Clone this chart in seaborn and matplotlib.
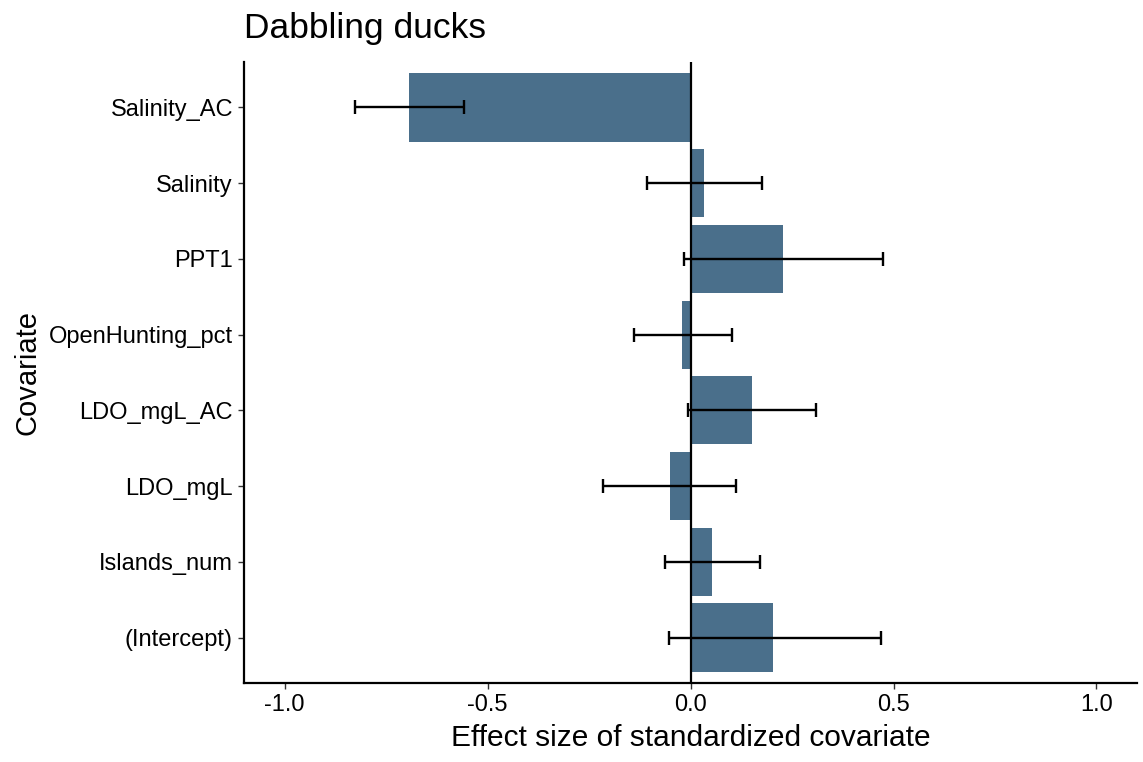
import numpy as np
import pandas as pd
import matplotlib
matplotlib.use("Agg")
import matplotlib.pyplot as plt
import seaborn as sns

# Effect sizes (top to bottom)
COVARIATES = ["Salinity_AC", "Salinity", "PPT1", "OpenHunting_pct",
              "LDO_mgL_AC", "LDO_mgL", "Islands_num", "(Intercept)"]
ESTIMATES = [-0.693, 0.033, 0.229, -0.020, 0.151, -0.051, 0.053, 0.204]
LOWER = [-0.827, -0.108, -0.015, -0.139, -0.006, -0.215, -0.063, -0.053]
UPPER = [-0.558, 0.176, 0.475, 0.101, 0.308, 0.113, 0.170, 0.468]
X_TICKS = [-1.0, -0.5, 0.0, 0.5, 1.0]

BAR_COLOR = "#4a6f8b"

df = pd.DataFrame({"Covariate": COVARIATES, "Estimate": ESTIMATES,
                   "Lower": LOWER, "Upper": UPPER})

sns.set_style("white")
plt.rcParams["font.family"] = ["Liberation Sans", "DejaVu Sans"]
plt.rcParams["text.color"] = "black"
plt.rcParams["axes.labelcolor"] = "black"
plt.rcParams["xtick.labelcolor"] = "black"
plt.rcParams["ytick.labelcolor"] = "black"

fig = plt.figure(figsize=(11.43, 7.62), dpi=100)
ax = fig.add_axes([0.2135, 0.1037, 0.7813, 0.8149])

sns.barplot(data=df, x="Estimate", y="Covariate", order=COVARIATES,
            color=BAR_COLOR, saturation=1, width=0.9, errorbar=None,
            linewidth=0, ax=ax)

ypos = np.arange(len(COVARIATES))
ax.errorbar(df["Estimate"], ypos,
            xerr=[df["Estimate"] - df["Lower"], df["Upper"] - df["Estimate"]],
            fmt="none", ecolor="black", elinewidth=1.7, capsize=5, capthick=1.7)

ax.axvline(0, color="black", linewidth=1.6)

ax.set_xlim(-1.1, 1.1)
ax.set_ylim(len(COVARIATES) - 0.4, -0.6)
ax.set_xticks(X_TICKS)
ax.set_xticklabels([f"{t:.1f}" for t in X_TICKS])

ax.set_xlabel("Effect size of standardized covariate", fontsize=21.5, labelpad=6)
ax.set_ylabel("Covariate", fontsize=21, labelpad=5)
ax.set_title("Dabbling ducks", fontsize=25.5, loc="left", pad=17)

ax.tick_params(axis="both", labelsize=17, length=4, width=1, color="#333333",
               pad=4, left=True, bottom=True)

sns.despine(ax=ax)
for side in ["left", "bottom"]:
    ax.spines[side].set_linewidth(1.6)
    ax.spines[side].set_color("black")

plt.savefig("out.png", dpi=100)
plt.close()
